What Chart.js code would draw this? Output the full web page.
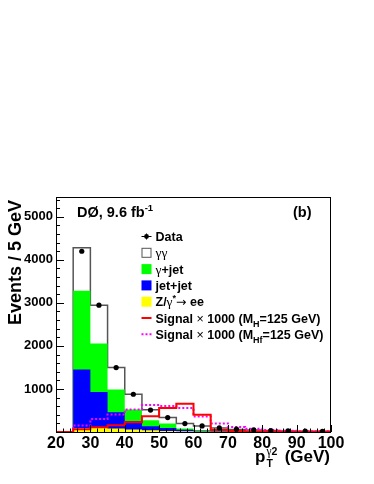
<!DOCTYPE html>
<html>
<head>
<meta charset="utf-8">
<script src="https://cdn.jsdelivr.net/npm/chart.js@4.4.1/dist/chart.umd.min.js"></script>
<style>
  html, body { margin: 0; padding: 0; background: #fff; }
  canvas { display: block; }
</style>
</head>
<body>
<canvas id="ptChart" width="374" height="484"></canvas>
<script>
// bin lower edges (GeV), last entry closes the final bin
const binEdges = [20, 25, 30, 35, 40, 45, 50, 55, 60, 65, 70, 75, 80, 85, 90, 95, 100];

// background components per bin (events / 5 GeV), stacked bottom -> top
const zee     = [0,   90,   95,  80,  60,  40,  25,  15,  10,   8,   6,   5,   4,   3,   2,   2];
const jetJet  = [0, 1360,  835, 378, 190,  93,  68,  35,  20,  12,   8,   5,   4,   3,   3,   2];
const gamJet  = [0, 1830, 1126, 528, 270, 139, 102,  30,  15,  10,   8,   7,   5,   4,   3,   2];
const diPhoton= [0, 1000,  891, 511, 357, 243, 140, 120,  95,  65,  38,  28,  22,  15,  12,   9];

// signal x 1000
const signalH  = [0,  65, 110, 155, 225, 365, 560, 658, 400,  45,  22,  14,   9,   6,   4,   3];
const signalHf = [0, 150, 300, 405, 520, 625, 605, 560, 360, 200, 115,  75,  45,  30,  20,  15];

// data points at bin centres
const dataCenters = [27.5, 32.5, 37.5, 42.5, 47.5, 52.5, 57.5, 62.5, 67.5, 72.5, 77.5, 82.5, 87.5, 92.5, 97.5];
const dataEvents  = [4200, 2947, 1497,  877,  510,  335,  195,  140,   95,   65,   50,   35,   25,   20,   15];

// axes
const xMin = 20, xMax = 100;
const yMin = 0, yMax = 5460;
const xTickValues = [20, 30, 40, 50, 60, 70, 80, 90, 100];
const yTickValues = [1000, 2000, 3000, 4000, 5000];
const yTickStep = 1000;

const SANS = '"Liberation Sans", Arial, Helvetica, sans-serif';
const SERIF = '"Liberation Serif", "DejaVu Serif", serif';

// cumulative stack tops
function addArrays(a, b) {
    return a.map((v, i) => v + b[i]);
}
const topZee = zee;
const topJetJet = addArrays(topZee, jetJet);
const topGamJet = addArrays(topJetJet, gamJet);
const topDiPhoton = addArrays(topGamJet, diPhoton);

// step points at bin edges (value of bin i is held over [edge i, edge i+1])
function stepPoints(vals) {
    return binEdges.map((x, i) => ({ x: x, y: i < vals.length ? vals[i] : 0 }));
}

function histDataset(vals, opts) {
    return Object.assign({
        type: 'line',
        data: stepPoints(vals),
        stepped: true,
        pointRadius: 0,
        borderWidth: 0,
        tension: 0
    }, opts);
}

/**
 * Disegna testo con pezzi di font diversi (sub/sup)
 */
function drawRich(ctx, x, y, parts) {
    let cx = x;
    parts.forEach(function(p) {
        ctx.font = p[1];
        ctx.fillText(p[0], cx, y + (p[2] || 0));
        cx += ctx.measureText(p[0]).width;
    });
    return cx;
}

const frameAndLabels = {
    id: 'frameAndLabels',
    afterDraw: function(chart) {
        const ctx = chart.ctx;
        const area = chart.chartArea;
        const xs = chart.scales.x, ys = chart.scales.y;
        ctx.save();

        // frame
        ctx.strokeStyle = '#000';
        ctx.lineWidth = 1;
        ctx.strokeRect(area.left + 0.5, area.top + 0.5, area.right - area.left - 1, area.bottom - area.top);

        // inner ticks
        ctx.beginPath();
        for (let v = yMin; v <= yMax; v += yTickStep / 5) {
            const py = Math.round(ys.getPixelForValue(v)) + 0.5;
            const len = (v % yTickStep === 0) ? 8 : 4;
            ctx.moveTo(area.left, py);
            ctx.lineTo(area.left + len, py);
        }
        for (let v = xMin; v <= xMax; v += 2) {
            const px = Math.round(xs.getPixelForValue(v)) + 0.5;
            const len = (v % 10 === 0) ? 7 : 3.5;
            ctx.moveTo(px, area.bottom);
            ctx.lineTo(px, area.bottom - len);
        }
        ctx.stroke();

        ctx.fillStyle = '#000';
        ctx.textBaseline = 'alphabetic';
        ctx.textAlign = 'left';

        // experiment label
        const boldL = 'bold 14.5px ' + SANS;
        drawRich(ctx, 77, 216.5, [['DØ, 9.6 fb', boldL], ['-1', 'bold 9.5px ' + SANS, -6]]);
        ctx.font = boldL;
        ctx.fillText('(b)', 293, 216.5);

        // legend
        const lx = 141.5, tx = 155.5, ly0 = 236.5, dy = 16.3;
        const B = 'bold 12.5px ' + SANS;
        const S = '13.5px ' + SERIF;
        const R = '12.5px ' + SANS;
        const small = 'bold 9px ' + SANS;
        const items = [
            { kind: 'data', parts: [['Data', B]] },
            { kind: 'box', fill: '#fff', stroke: '#555', parts: [['γγ', S]] },
            { kind: 'box', fill: '#00ff00', parts: [['γ', S], ['+jet', B]] },
            { kind: 'box', fill: '#0000ff', parts: [['jet+jet', B]] },
            { kind: 'box', fill: '#ffff00', parts: [['Z/', B], ['γ', S], ['*', small, -5], ['→', '12.5px "DejaVu Sans"'], [' ee', B]] },
            { kind: 'line', color: '#ff0000', dash: [], parts: [['Signal ', B], ['×', R], [' 1000 (M', B], ['H', small, 4], ['=125 GeV)', B]] },
            { kind: 'line', color: '#ff00ff', dash: [2, 2], parts: [['Signal ', B], ['×', R], [' 1000 (M', B], ['Hf', small, 4], ['=125 GeV)', B]] }
        ];
        items.forEach(function(it, i) {
            const cy = ly0 + i * dy;
            if (it.kind === 'data') {
                ctx.beginPath();
                ctx.strokeStyle = '#000';
                ctx.lineWidth = 1;
                ctx.moveTo(lx, cy); ctx.lineTo(lx + 10, cy);
                ctx.moveTo(lx + 5, cy - 3); ctx.lineTo(lx + 5, cy + 3);
                ctx.stroke();
                ctx.beginPath();
                ctx.arc(lx + 5, cy, 2.4, 0, Math.PI * 2);
                ctx.fill();
            } else if (it.kind === 'box') {
                ctx.fillStyle = it.fill;
                ctx.fillRect(lx, cy - 5, 10, 10);
                if (it.stroke) {
                    ctx.strokeStyle = it.stroke;
                    ctx.lineWidth = 1;
                    ctx.strokeRect(lx + 0.5, cy - 4.5, 9, 9);
                }
            } else {
                ctx.strokeStyle = it.color;
                ctx.lineWidth = 2;
                ctx.setLineDash(it.dash);
                ctx.beginPath();
                ctx.moveTo(lx, cy); ctx.lineTo(lx + 10, cy);
                ctx.stroke();
                ctx.setLineDash([]);
            }
            ctx.fillStyle = '#000';
            drawRich(ctx, tx, cy + 4.5, it.parts);
        });

        // y axis title
        ctx.save();
        ctx.translate(20.5, 200);
        ctx.rotate(-Math.PI / 2);
        ctx.font = 'bold 18px ' + SANS;
        ctx.textAlign = 'right';
        ctx.fillText('Events / 5 GeV', 0, 0);
        ctx.restore();

        // x axis title
        ctx.textAlign = 'left';
        const T = 'bold 17px ' + SANS;
        ctx.font = T;
        ctx.fillText('p', 255, 462);
        ctx.font = 'bold 10.5px ' + SANS;
        ctx.fillText('T', 266.5, 466.5);
        drawRich(ctx, 266.5, 455, [['γ', '11.5px ' + SERIF], ['2', 'bold 10.5px ' + SANS]]);
        ctx.font = T;
        ctx.textAlign = 'right';
        ctx.fillText('(GeV)', 330, 462);

        ctx.restore();
    }
};

const ctx = document.getElementById('ptChart').getContext('2d');

new Chart(ctx, {
    type: 'line',
    data: {
        datasets: [
            {
                type: 'line',
                data: dataCenters.map((x, i) => ({ x: x, y: dataEvents[i] })),
                showLine: false,
                pointRadius: 2.6,
                pointBackgroundColor: '#000',
                pointBorderWidth: 0
            },
            histDataset(signalH, { borderColor: '#ff0000', borderWidth: 2, fill: false, clip: false }),
            histDataset(signalHf, { borderColor: '#ff00ff', borderWidth: 2, borderDash: [2, 2], fill: false, clip: false }),
            histDataset(topZee, { backgroundColor: '#ffff00', fill: 'origin' }),
            histDataset(topJetJet, { backgroundColor: '#0000ff', fill: 'origin' }),
            histDataset(topGamJet, { backgroundColor: '#00ff00', fill: 'origin' }),
            histDataset(topDiPhoton, { backgroundColor: '#ffffff', borderColor: '#555555', borderWidth: 1.5, fill: 'origin' })
        ]
    },
    options: {
        responsive: false,
        devicePixelRatio: 1,
        animation: false,
        layout: {
            padding: { top: 197, right: 43, left: 0, bottom: 0 }
        },
        plugins: {
            legend: { display: false },
            tooltip: { enabled: false }
        },
        scales: {
            x: {
                type: 'linear',
                min: xMin,
                max: xMax,
                afterFit: function(scale) { scale.height = 52; },
                afterBuildTicks: function(scale) {
                    scale.ticks = xTickValues.map(v => ({ value: v }));
                },
                grid: { display: false, drawTicks: false },
                border: { display: false },
                ticks: {
                    color: '#000',
                    padding: 2,
                    maxRotation: 0,
                    font: { family: SANS, size: 16, weight: 'bold' },
                    callback: function(v) { return String(v); }
                }
            },
            y: {
                type: 'linear',
                min: yMin,
                max: yMax,
                afterFit: function(scale) { scale.width = 56; },
                afterBuildTicks: function(scale) {
                    scale.ticks = yTickValues.map(v => ({ value: v }));
                },
                grid: { display: false, drawTicks: false },
                border: { display: false },
                ticks: {
                    color: '#000',
                    padding: 3,
                    font: { family: SANS, size: 13, weight: 'bold' },
                    callback: function(v) { return String(v); }
                }
            }
        }
    },
    plugins: [frameAndLabels]
});
</script>
</body>
</html>
